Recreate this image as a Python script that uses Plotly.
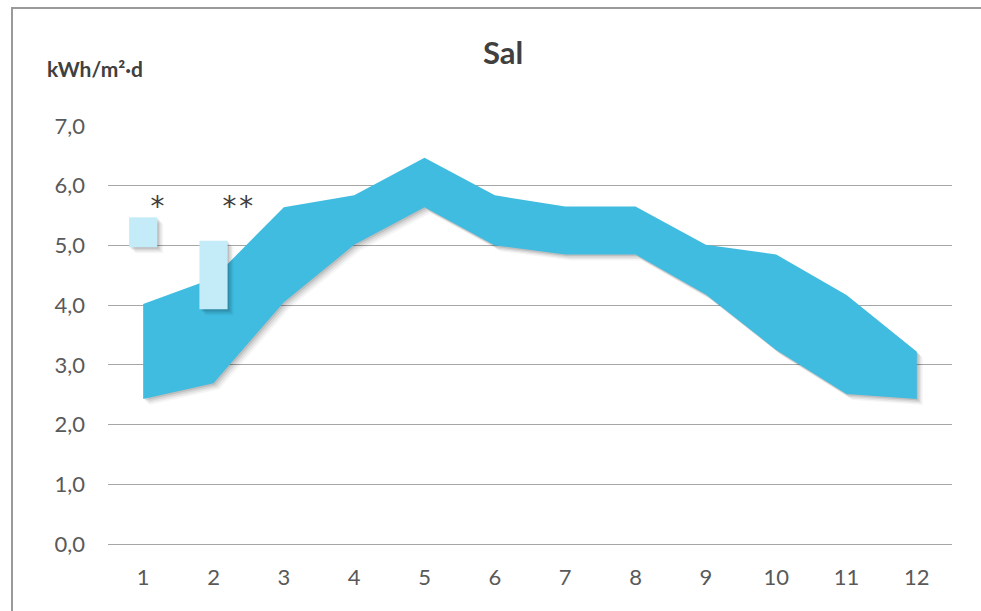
import plotly.graph_objects as go

# Monthly daily irradiation range (kWh/m²·d) for Sal
months = [1, 2, 3, 4, 5, 6, 7, 8, 9, 10, 11, 12]
upper = [4.02, 4.45, 5.64, 5.84, 6.47, 5.84, 5.65, 5.65, 5.01, 4.85, 4.17, 3.22]
lower = [2.43, 2.69, 4.05, 5.01, 5.64, 5.00, 4.85, 4.85, 4.18, 3.25, 2.51, 2.43]

# Separate reference ranges for months 1 and 2
ref_months = [1, 2]
ref_low = [4.97, 3.93]
ref_high = [5.47, 5.08]
ref_marks = ["*", "**"]

tick_labels = [str(m) for m in months]

BAND = "#3FBCE0"
REF = "#C4EBF8"
TEXT = "#595959"
GRID = "#A6A6A6"
FONT = "Lato"
MARK_Y = 5.66  # common height of the footnote marks

# plot area geometry (px) to convert pixel offsets of the drop shadow
W, H = 981, 611
L, R, T, B = 108, 29, 126, 67
x_range = [0.5, 12.5]
y_range = [0, 7]
px_x = (x_range[1] - x_range[0]) / (W - L - R)
px_y = (y_range[1] - y_range[0]) / (H - T - B)

fig = go.Figure()

band_x = months + months[::-1]
band_y = upper + lower[::-1]

# soft drop shadow built from several shifted translucent copies
shadow_steps = [(1.5, 0.10), (3, 0.08), (4.5, 0.06), (6, 0.04)]


def add_shadow(xs, ys):
    for off, op in shadow_steps:
        fig.add_trace(go.Scatter(
            x=[v + off * px_x for v in xs],
            y=[v - off * px_y for v in ys],
            fill="toself", mode="none",
            fillcolor=f"rgba(0,0,0,{op})",
            hoverinfo="skip", showlegend=False,
        ))


add_shadow(band_x, band_y)
fig.add_trace(go.Scatter(
    x=band_x, y=band_y, fill="toself", mode="none",
    fillcolor=BAND, showlegend=False, name="Sal",
))

# reference boxes, drawn on top of the band
half_w = 0.2
for m, lo, hi in zip(ref_months, ref_low, ref_high):
    bx = [m - half_w, m + half_w, m + half_w, m - half_w, m - half_w]
    by = [lo, lo, hi, hi, lo]
    add_shadow(bx, by)
    fig.add_trace(go.Scatter(
        x=bx, y=by, fill="toself", mode="none",
        fillcolor=REF, showlegend=False,
    ))

for m, mark in zip(ref_months, ref_marks):
    fig.add_annotation(
        x=m + 0.2 + 0.15 * (len(mark) - 1), y=MARK_Y, text=mark,
        showarrow=False,
        font=dict(family="DejaVu Sans Mono", size=28, color="#404040"),
        xanchor="center", yanchor="middle",
    )

# chart title and unit label
fig.add_annotation(
    xref="paper", yref="paper",
    x=(503 - L) / (W - L - R), y=(H - B - 52) / (H - T - B),
    text="<b>Sal</b>", showarrow=False,
    font=dict(family=FONT, size=31, color="#404040"),
    xanchor="center", yanchor="middle",
)
fig.add_annotation(
    xref="paper", yref="paper",
    x=(45 - L) / (W - L - R), y=(H - B - 68) / (H - T - B),
    text="<b>kWh/m²·d</b>", showarrow=False,
    font=dict(family=FONT, size=21, color="#404040"),
    xanchor="left", yanchor="middle",
)

# outer frame of the chart area
fig.add_shape(
    type="rect", xref="paper", yref="paper",
    x0=(12 - L) / (W - L - R), x1=(1020 - L) / (W - L - R),
    y0=(H - B - 640) / (H - T - B), y1=(H - B - 8) / (H - T - B),
    line=dict(color="#9A9A9A", width=2), fillcolor="rgba(0,0,0,0)",
    layer="below",
)

fig.update_layout(
    width=W, height=H,
    margin=dict(l=L, r=R, t=T, b=B),
    paper_bgcolor="white", plot_bgcolor="white",
    separators=",.",
    showlegend=False,
    font=dict(family=FONT, color=TEXT),
)
fig.update_xaxes(
    range=x_range, tickvals=months, ticktext=tick_labels,
    showgrid=False, zeroline=False, showline=False, ticks="",
    tickfont=dict(family=FONT, size=22, color=TEXT),
    ticklabelstandoff=18,
)
fig.update_yaxes(
    range=y_range, dtick=1, tickformat=".1f",
    showgrid=True, gridcolor=GRID, gridwidth=1,
    zeroline=True, zerolinecolor=GRID, zerolinewidth=1,
    showline=False, ticks="",
    tickfont=dict(family=FONT, size=22, color=TEXT),
    ticklabelstandoff=22,
)

fig.write_html("out.html")
